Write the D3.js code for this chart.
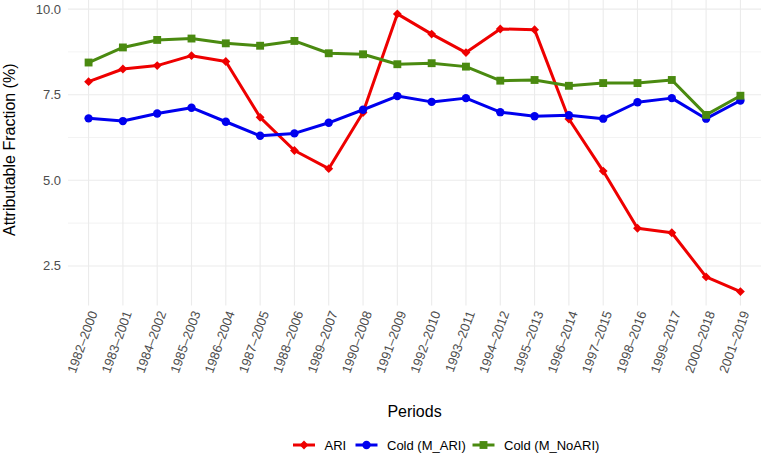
<!DOCTYPE html>
<html>
<head>
<meta charset="utf-8">
<script src="https://cdn.jsdelivr.net/npm/d3@7"></script>
<style>
  body { margin: 0; background: #fff; }
  text { font-family: "Liberation Sans", Arial, sans-serif; }
</style>
</head>
<body>
<svg id="chart" width="762" height="454"></svg>
<script>
// periods on the x axis
const periods = ["1982–2000","1983–2001","1984–2002","1985–2003","1986–2004","1987–2005",
  "1988–2006","1989–2007","1990–2008","1991–2009","1992–2010","1993–2011","1994–2012",
  "1995–2013","1996–2014","1997–2015","1998–2016","1999–2017","2000–2018","2001–2019"];

// attributable fraction (%) per series
const ari = [7.88, 8.25, 8.35, 8.64, 8.47, 6.84, 5.87, 5.34, 6.98, 9.86,
  9.27, 8.73, 9.42, 9.40, 6.79, 5.27, 3.60, 3.47, 2.18, 1.75];
const coldMAri = [6.81, 6.73, 6.95, 7.12, 6.71, 6.30, 6.37, 6.68, 7.06, 7.46,
  7.29, 7.40, 6.99, 6.87, 6.90, 6.80, 7.28, 7.40, 6.80, 7.33];
const coldMNoAri = [8.44, 8.88, 9.10, 9.14, 9.00, 8.93, 9.07, 8.71, 8.68, 8.39,
  8.42, 8.32, 7.91, 7.93, 7.76, 7.84, 7.84, 7.93, 6.91, 7.47];

const yTicks = [2.5, 5.0, 7.5, 10.0];
const yMinor = [3.75, 6.25, 8.75];

const series = [
  { name: "ARI", values: ari, color: "#ee0000", shape: d3.symbolDiamond2, size: 50 },
  { name: "Cold (M_ARI)", values: coldMAri, color: "#0000ee", shape: d3.symbolCircle, size: 55 },
  { name: "Cold (M_NoARI)", values: coldMNoAri, color: "#4a8a10", shape: d3.symbolSquare, size: 62 }
];

const svg = d3.select("#chart");
const panel = { left: 68, right: 761, top: 0, bottom: 305.5 };

let x = d3.scalePoint()
  .domain(periods)
  .range([panel.left, panel.right])
  .padding(0.6);

// ggplot style 5% expansion
const all = ari.concat(coldMAri, coldMNoAri);
const lo = d3.min(all), hi = d3.max(all), pad = (hi - lo) * 0.05;
let y = d3.scaleLinear()
  .domain([lo - pad, hi + pad])
  .range([panel.bottom, panel.top]);

// grid
const grid = svg.append("g");
grid.selectAll("line.minor").data(yMinor).enter().append("line")
  .attr("x1", panel.left).attr("x2", panel.right)
  .attr("y1", d => y(d)).attr("y2", d => y(d))
  .attr("stroke", "#ebebeb").attr("stroke-width", 0.6);
grid.selectAll("line.major").data(yTicks).enter().append("line")
  .attr("x1", panel.left).attr("x2", panel.right)
  .attr("y1", d => y(d)).attr("y2", d => y(d))
  .attr("stroke", "#ebebeb").attr("stroke-width", 1.1);
grid.selectAll("line.vx").data(periods).enter().append("line")
  .attr("x1", d => x(d)).attr("x2", d => x(d))
  .attr("y1", panel.top).attr("y2", panel.bottom)
  .attr("stroke", "#ebebeb").attr("stroke-width", 1.1);

// y tick labels
svg.append("g").selectAll("text").data(yTicks).enter().append("text")
  .attr("x", 61).attr("y", d => y(d)).attr("dy", "0.35em")
  .attr("text-anchor", "end").attr("font-size", 13).attr("fill", "#4d4d4d")
  .text(d => d.toFixed(1));

// x tick labels, rotated
svg.append("g").selectAll("text").data(periods).enter().append("text")
  .attr("transform", d => "translate(" + x(d) + ",309.5) rotate(-70)")
  .attr("dy", "0.75em")
  .attr("text-anchor", "end").attr("font-size", 13).attr("fill", "#4d4d4d")
  .text(d => d);

// axis titles
svg.append("text")
  .attr("transform", "translate(14.5," + ((panel.top + panel.bottom) / 2 - 3) + ") rotate(-90)")
  .attr("text-anchor", "middle").attr("font-size", 16).attr("fill", "#000")
  .text("Attributable Fraction (%)");
svg.append("text")
  .attr("x", (panel.left + panel.right) / 2).attr("y", 417)
  .attr("text-anchor", "middle").attr("font-size", 16).attr("fill", "#000")
  .text("Periods");

// lines + points
const line = d3.line()
  .x((d, i) => x(periods[i]))
  .y(d => y(d));

series.forEach(s => {
  const g = svg.append("g");
  g.append("path")
    .datum(s.values)
    .attr("d", line)
    .attr("fill", "none")
    .attr("stroke", s.color)
    .attr("stroke-width", 3)
    .attr("stroke-linejoin", "round");
  g.selectAll("path.pt").data(s.values).enter().append("path")
    .attr("class", "pt")
    .attr("d", d3.symbol().type(s.shape).size(s.size))
    .attr("transform", (d, i) => "translate(" + x(periods[i]) + "," + y(d) + ")")
    .attr("fill", s.color);
});

// legend
const legendX = [293, 355.5, 472.5];
const leg = svg.append("g");
series.forEach((s, i) => {
  const k = leg.append("g").attr("transform", "translate(" + legendX[i] + ",445)");
  k.append("line").attr("x1", 0).attr("x2", 22).attr("y1", 0).attr("y2", 0)
    .attr("stroke", s.color).attr("stroke-width", 3);
  k.append("path")
    .attr("d", d3.symbol().type(s.shape).size(s.size))
    .attr("transform", "translate(11,0)")
    .attr("fill", s.color);
  k.append("text").attr("x", 31.5).attr("y", 0).attr("dy", "0.35em")
    .attr("font-size", 13).attr("fill", "#000")
    .text(s.name);
});
</script>
</body>
</html>
